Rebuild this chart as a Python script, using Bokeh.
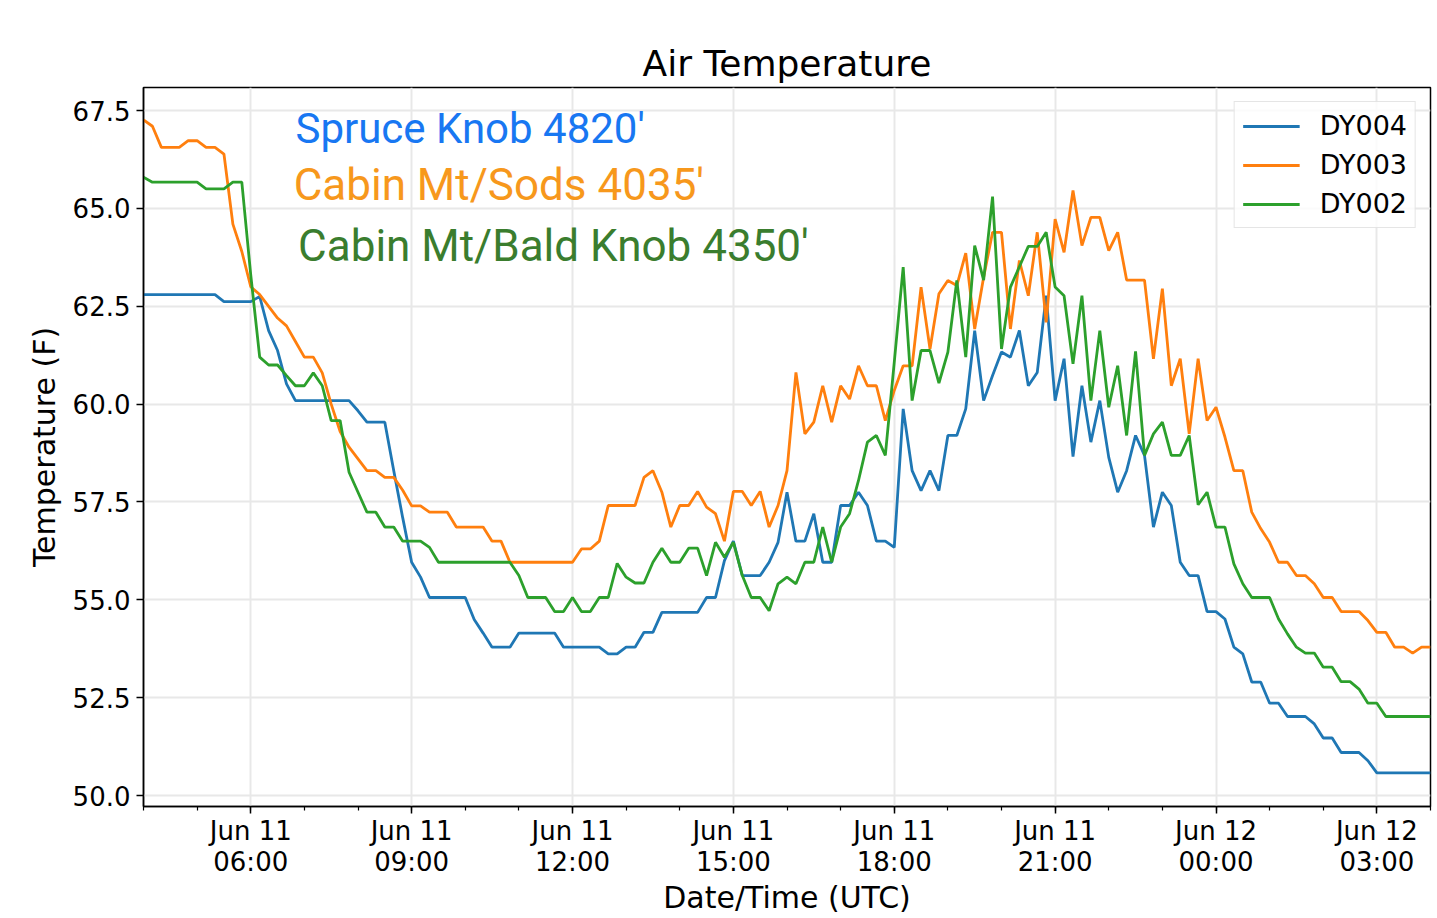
from bokeh.plotting import figure
from bokeh.embed import file_html
from bokeh.resources import INLINE
from bokeh.models import (ColumnDataSource, Range1d, FixedTicker, Label,
                          DatetimeTickFormatter, NumeralTickFormatter)
import pandas as pd

# Air temperature (F), one reading every 10 minutes, Jun 11 04:00 -> Jun 12 04:00 UTC
dy004 = [
    62.8, 62.8, 62.8, 62.8, 62.8, 62.8, 62.8, 62.8, 62.8, 62.62, 62.62, 62.62,
    62.62, 62.75, 61.88, 61.37, 60.52, 60.09, 60.09, 60.09, 60.09, 60.09, 60.09, 60.09,
    59.83, 59.54, 59.54, 59.54, 58.3, 57.1, 55.96, 55.58, 55.06, 55.06, 55.06, 55.06,
    55.06, 54.5, 54.15, 53.79, 53.79, 53.79, 54.15, 54.15, 54.15, 54.15, 54.15, 53.79,
    53.79, 53.79, 53.79, 53.79, 53.62, 53.62, 53.79, 53.79, 54.17, 54.17, 54.68, 54.68,
    54.68, 54.68, 54.68, 55.06, 55.06, 56.0, 56.5, 55.62, 55.62, 55.62, 55.96, 56.47,
    57.75, 56.5, 56.5, 57.2, 55.96, 55.96, 57.41, 57.41, 57.75, 57.41, 56.5, 56.5,
    56.34, 59.88, 58.3, 57.79, 58.3, 57.79, 59.2, 59.2, 59.88, 61.88, 60.09, 60.73,
    61.33, 61.2, 61.88, 60.47, 60.81, 62.77, 60.09, 61.16, 58.66, 60.47, 59.03, 60.09,
    58.64, 57.75, 58.3, 59.2, 58.69, 56.86, 57.75, 57.41, 55.96, 55.62, 55.62, 54.7,
    54.7, 54.51, 53.79, 53.62, 52.9, 52.9, 52.36, 52.36, 52.02, 52.02, 52.02, 51.83,
    51.47, 51.47, 51.1, 51.1, 51.1, 50.89, 50.58, 50.58, 50.58, 50.58, 50.58, 50.58,
    50.58,
]
dy003 = [
    67.26, 67.1, 66.56, 66.56, 66.56, 66.73, 66.73, 66.56, 66.56, 66.39, 64.6, 63.9,
    63.0, 62.8, 62.5, 62.2, 62.0, 61.6, 61.2, 61.2, 60.8, 60.0, 59.3, 58.9,
    58.6, 58.3, 58.3, 58.13, 58.13, 57.8, 57.4, 57.4, 57.24, 57.24, 57.24, 56.86,
    56.86, 56.86, 56.86, 56.5, 56.5, 55.96, 55.96, 55.96, 55.96, 55.96, 55.96, 55.96,
    55.96, 56.3, 56.3, 56.5, 57.41, 57.41, 57.41, 57.41, 58.13, 58.3, 57.75, 56.86,
    57.41, 57.41, 57.77, 57.37, 57.2, 56.5, 57.77, 57.77, 57.41, 57.77, 56.86, 57.41,
    58.3, 60.81, 59.24, 59.54, 60.47, 59.54, 60.47, 60.13, 60.98, 60.47, 60.47, 59.58,
    60.35, 60.98, 60.98, 62.99, 61.41, 62.82, 63.16, 63.03, 63.86, 61.92, 63.24, 64.39,
    64.39, 61.92, 63.67, 62.77, 64.39, 62.09, 64.73, 63.88, 65.46, 64.05, 64.77, 64.77,
    63.92, 64.39, 63.17, 63.17, 63.17, 61.16, 62.95, 60.47, 61.16, 59.24, 61.16, 59.58,
    59.92, 59.16, 58.3, 58.3, 57.24, 56.82, 56.47, 55.96, 55.96, 55.62, 55.62, 55.41,
    55.06, 55.06, 54.7, 54.7, 54.7, 54.47, 54.17, 54.17, 53.79, 53.79, 53.64, 53.79,
    53.79,
]
dy002 = [
    65.8, 65.67, 65.67, 65.67, 65.67, 65.67, 65.67, 65.5, 65.5, 65.5, 65.67, 65.67,
    63.3, 61.2, 61.0, 61.0, 60.73, 60.47, 60.47, 60.8, 60.47, 59.58, 59.58, 58.26,
    57.75, 57.24, 57.24, 56.86, 56.86, 56.5, 56.5, 56.5, 56.34, 55.96, 55.96, 55.96,
    55.96, 55.96, 55.96, 55.96, 55.96, 55.96, 55.62, 55.06, 55.06, 55.06, 54.7, 54.7,
    55.06, 54.7, 54.7, 55.06, 55.06, 55.93, 55.58, 55.43, 55.43, 55.96, 56.32, 55.96,
    55.96, 56.32, 56.32, 55.62, 56.47, 56.09, 56.47, 55.62, 55.06, 55.06, 54.72, 55.41,
    55.58, 55.41, 55.96, 55.96, 56.86, 55.96, 56.86, 57.2, 58.05, 59.03, 59.2, 58.69,
    61.07, 63.5, 60.09, 61.37, 61.37, 60.54, 61.33, 63.16, 61.2, 64.05, 63.17, 65.3,
    61.41, 62.99, 63.51, 64.03, 64.03, 64.39, 62.99, 62.77, 61.03, 62.77, 60.09, 61.88,
    59.92, 60.98, 59.2, 61.35, 58.69, 59.24, 59.54, 58.69, 58.69, 59.2, 57.43, 57.75,
    56.86, 56.86, 55.92, 55.41, 55.06, 55.06, 55.06, 54.51, 54.13, 53.79, 53.64, 53.64,
    53.28, 53.28, 52.91, 52.91, 52.72, 52.36, 52.36, 52.02, 52.02, 52.02, 52.02, 52.02,
    52.02,
]
y_ticks = [50.0, 52.5, 55.0, 57.5, 60.0, 62.5, 65.0, 67.5]

times = pd.date_range("2018-06-11 04:00", periods=len(dy004), freq="10min")
source = ColumnDataSource(dict(t=times, dy004=dy004, dy003=dy003, dy002=dy002))

def ms(ts):
    return pd.Timestamp(ts).value / 1e6

FONT = "DejaVu Sans"

p = figure(frame_width=1287, frame_height=719,
           min_border_left=143, min_border_right=6,
           min_border_top=87, min_border_bottom=111,
           x_axis_type="datetime",
           x_range=Range1d(times[0], times[-1]),
           y_range=Range1d(49.72, 68.09),
           title="Air Temperature",
           x_axis_label="Date/Time (UTC)", y_axis_label="Temperature (F)",
           output_backend="svg", toolbar_location=None)

# titulo
p.title.align = "center"
p.title.text_font = FONT
p.title.text_font_style = "normal"
p.title.text_font_size = "36px"
p.title.text_color = "black"
p.title.standoff = 8

# lineas
p.line("t", "dy004", source=source, color="#1f77b4", line_width=2.8, legend_label="DY004")
p.line("t", "dy003", source=source, color="#ff7f0e", line_width=2.8, legend_label="DY003")
p.line("t", "dy002", source=source, color="#2ca02c", line_width=2.8, legend_label="DY002")

# eje x: mayores cada 3 h, menores cada hora
major = [ms(t) for t in pd.date_range("2018-06-11 06:00", "2018-06-12 03:00", freq="3h")]
minor = [ms(t) for t in pd.date_range("2018-06-11 04:00", "2018-06-12 04:00", freq="1h")]
p.xaxis.ticker = FixedTicker(ticks=major, minor_ticks=minor)
fmt = "%b %d\n%H:%M"
p.xaxis.formatter = DatetimeTickFormatter(hours=fmt, hourmin=fmt, days=fmt, minutes=fmt,
                                          minsec=fmt, seconds=fmt, months=fmt, years=fmt,
                                          strip_leading_zeros=False)

p.yaxis.ticker = FixedTicker(ticks=y_ticks, minor_ticks=[])
p.yaxis.formatter = NumeralTickFormatter(format="0.0")

for ax in (p.xaxis, p.yaxis):
    ax.axis_label_text_font = FONT
    ax.axis_label_text_font_style = "normal"
    ax.axis_label_text_font_size = "30px"
    ax.axis_label_text_color = "black"
    ax.major_label_text_font = FONT
    ax.major_label_text_font_size = "26px"
    ax.major_label_text_color = "black"
    ax.axis_line_color = "black"
    ax.axis_line_width = 1.5
    ax.major_tick_line_color = "black"
    ax.major_tick_line_width = 1.5
    ax.major_tick_out = 7
    ax.major_tick_in = 0
    ax.minor_tick_line_color = "black"
    ax.minor_tick_line_width = 1.2
    ax.minor_tick_out = 4
    ax.minor_tick_in = 0
    ax.major_label_standoff = 6
    ax.axis_label_standoff = 8

p.xaxis.major_label_standoff = 2
p.xaxis.major_label_text_line_height = 1.05
p.xaxis.axis_label_standoff = 0
p.xaxis.axis_label_text_line_height = 1.0
p.yaxis.axis_label_standoff = 8

p.outline_line_color = "black"
p.outline_line_width = 1.5
p.grid.grid_line_color = "#e8e8e8"
p.grid.grid_line_width = 2

# leyenda
p.legend.location = "top_right"
p.legend.margin = 14
p.legend.padding = 8
p.legend.spacing = 8
p.legend.glyph_width = 57
p.legend.glyph_height = 30
p.legend.label_height = 30
p.legend.label_standoff = 20
p.legend.label_text_font = FONT
p.legend.label_text_font_size = "27px"
p.legend.label_text_color = "black"
p.legend.border_line_color = "#cccccc"
p.legend.border_line_width = 1.5
p.legend.background_fill_alpha = 0.8

# anotaciones de las estaciones
notes = [
    ("Spruce Knob 4820'", "#1877f2", "2018-06-11 06:50", 67.05, "42px"),
    ("Cabin Mt/Sods 4035'", "#f7981c", "2018-06-11 06:48", 65.6, "44px"),
    ("Cabin Mt/Bald Knob 4350'", "#3a7d2e", "2018-06-11 06:53", 64.03, "44px"),
]
for txt, col, tx, ty, fs in notes:
    p.add_layout(Label(x=ms(tx), y=ty, text=txt, text_color=col,
                       text_font="Roboto", text_font_size=fs,
                       text_baseline="alphabetic"))

open("out.html", "w").write(file_html(p, INLINE))
